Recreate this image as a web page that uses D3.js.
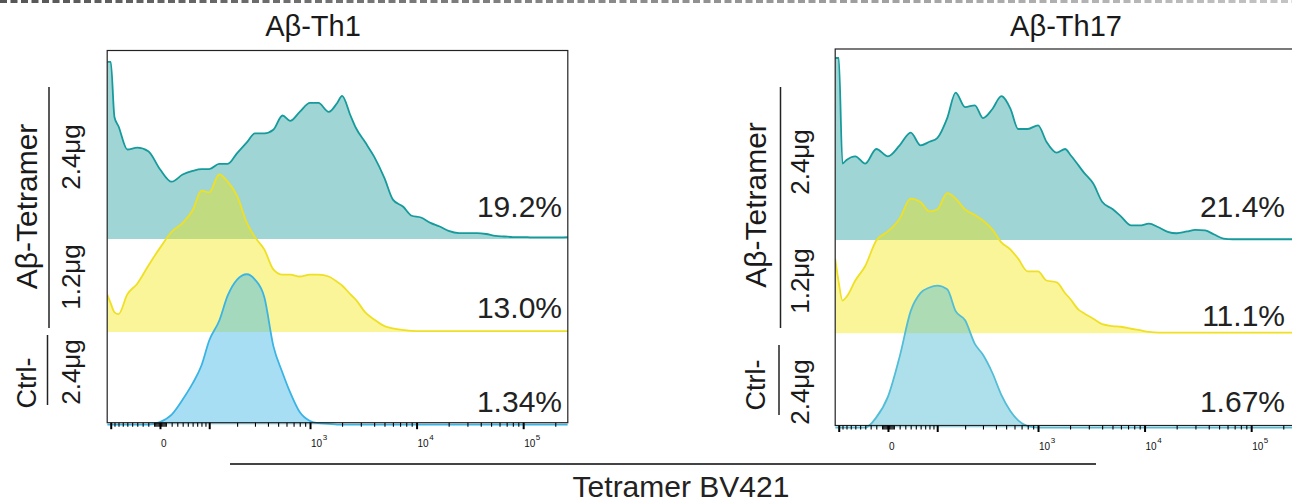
<!DOCTYPE html>
<html><head><meta charset="utf-8">
<script src="https://cdn.jsdelivr.net/npm/d3@7"></script>
<style>html,body{margin:0;padding:0;background:#fff;overflow:hidden;} svg{display:block;font-family:"Liberation Sans",Arial,sans-serif;}</style>
</head><body><svg id="chart" width="1292" height="502"></svg>
<script>
// ---------- data ----------
// fluorescence bin centres (Tetramer BV421, logicle-like display)
const xBins = [-110,-100,-90,-80,-60,-40,-20,0,20,40,60,80,100,130,160,200,250,300,370,450,550,650,800,
  1000,1200,1500,1800,2000,2400,2700,3300,4000,5000,6000,7500,9000,11000,13500,16500,20000,25000,30000,
  37000,45000,55000,67000,80000,100000,120000,150000,185000,220000,262144];

// % of mode, Aβ-Th1
const th1Teal = [99,99,68,63,50,51,49,39,32,36,38,39,39,42,42,48,54,59,59,61,69,66,71,
  76,76,71,76,80,69,62,54,46,34,22,18,13,12,9,7,4.5,3.3,3.3,
  3.3,2.8,1.7,1.4,1.1,1.1,0.9,0.9,0.9,0.9,1.1];
const th1Yellow = [21,16,11,10,21,27,37,47,56,61,68,79,78,88,84,76,61,53,46,35,32,32,31,
  32,32,31,28,26,21,18,11,7,3.3,2,1.1,0.6,0.5,0.5,0.5,0.5,0.5,0.5,
  0.5,0.5,0.5,0.5,0.5,0.5,0.5,0.5,0.5,0.5,0.5];
const th1Blue = [0,0,0,0,0,0,0,1.4,5.6,14,23,33,47,58,72,81,84,81,71,44,29,18,7,
  2,0.8,0.4,0,0,0,0,0,0,0,0,0,0,0,0,0,0,0,0,
  0,0,0,0,0,0,0,0,0,0,0];

// % of mode, Aβ-Th17
const th17Teal = [100,100,42,44,46,42,50,46,52,59,52,54,56,67,81,73,74,67,72,79,72,61,61,
  63,54,48,50,47,41,37,31,21,17,13,8,8,9,7,4.5,3.7,4.7,5.6,
  5.3,3,0.8,0.4,0.4,0.4,0.4,0.4,0.4,0.4,0.4];
const th17Yellow = [41,28,18,20,29,37,51,56,63,74,72,67,68,77,74,68,65,62,57,50,46,41,34,
  34,29,28,22,19,13,11,8,5,4,3.6,2.5,1.7,0.8,0.4,0.4,0.4,0.4,0.4,
  0.4,0.4,0.4,0.4,0.4,0.4,0.4,0.4,0.4,0.4,0.4];
const th17Blue = [0,0,0,0,0,0,5.6,17,39,64,74,77,78,76,64,59,46,40,30,18,9,4,0.8,
  0,0,0,0,0,0,0,0,0,0,0,0,0,0,0,0,0,0,0,
  0,0,0,0,0,0,0,0,0,0,0];

const panelTitles = ["Aβ-Th1", "Aβ-Th17"];
const th1Pct = ["19.2%", "13.0%", "1.34%"];
const th17Pct = ["21.4%", "11.1%", "1.67%"];
const rowDoses = ["2.4μg", "1.2μg", "2.4μg"];
const groupLabels = ["Aβ-Tetramer", "Ctrl-"];
const axisTitle = "Tetramer BV421";

const majorTicks = [-100, 0, 100, 1000, 10000, 100000];
const minorTicks = [-90,-80,-70,-60,-50,-40,-30,-20,-10,-8,-6,-4,-2,2,4,6,8,10,20,30,40,50,60,70,80,90,
  200,300,400,500,600,700,800,900,2000,3000,4000,5000,6000,7000,8000,9000,
  20000,30000,40000,50000,60000,70000,80000,90000,200000];
const tickLabelValues = [0, 1000, 10000, 100000];
const tickLabelBase = ["0", "10", "10", "10"];
const tickLabelExp = ["", "3", "4", "5"];

const xDomain = [-110, 262144];
const cofactor = 78.4;

// ---------- helpers ----------
function asinhScale(cof, domain, range) {
  const t = v => Math.asinh(v / cof);
  const lin = d3.scaleLinear().domain(domain.map(t)).range(range);
  const s = v => lin(t(v));
  s.domain = () => domain.slice();
  s.range = () => range.slice();
  s.copy = () => asinhScale(cof, domain, range);
  return s;
}

const svg = d3.select("#chart");
const defs = svg.append("defs");

// top dashed separator
const grad = defs.append("linearGradient").attr("id", "dashGrad")
  .attr("x1", "0").attr("x2", "1").attr("y1", "0").attr("y2", "0");
grad.append("stop").attr("offset", "0").attr("stop-color", "#555");
grad.append("stop").attr("offset", "1").attr("stop-color", "#c4c4c4");
const mask = defs.append("mask").attr("id", "dashMask");
mask.append("line").attr("x1", 0).attr("x2", 1292).attr("y1", 1.5).attr("y2", 1.5)
  .attr("stroke", "#fff").attr("stroke-width", 3).attr("stroke-dasharray", "7,3.5");
svg.append("rect").attr("x", 0).attr("y", 0).attr("width", 1292).attr("height", 3)
  .attr("fill", "url(#dashGrad)").attr("mask", "url(#dashMask)");

const panels = [
  { title: panelTitles[0], series: [th1Teal, th1Yellow, th1Blue], pct: th1Pct,
    x0: 107.2, x1: 567.8, top: 50.5, bottom: 422.7, base: [239, 332, 424.6], h: 179,
    pctY: [217, 318, 412], pctX: 562, titleX: 313,
    colors: [["#1a9a9c", "#169a9c"], ["#f5e600", "#efe024"], ["#40b6e6", "#3ab4e4"]],
    groupX: 36.5, lineX: 49, doseX: 80, tetY: 206.5, tetLine: [87, 328], ctrlY: 383, ctrlLine: [335, 405],
    doseY: [157, 277, 372] },
  { title: panelTitles[1], series: [th17Teal, th17Yellow, th17Blue], pct: th17Pct,
    x0: 835.2, x1: 1295.8, top: 49, bottom: 425.5, base: [240, 333.3, 427.6], h: 182,
    pctY: [217, 326, 412], pctX: 1285, titleX: 1066,
    colors: [["#1a9a9c", "#169a9c"], ["#f5e600", "#efe024"], ["#4fbcd4", "#52bdd6"]],
    groupX: 765.5, lineX: 780.5, doseX: 809, tetY: 205, tetLine: [87, 328], ctrlY: 385, ctrlLine: [345, 415],
    doseY: [162, 281, 392] }
];

panels.forEach((p, pi) => {
  const x = asinhScale(cofactor, xDomain, [p.x0, p.x1]);
  const g = svg.append("g");

  const clipId = "clip" + pi;
  defs.append("clipPath").attr("id", clipId).append("rect")
    .attr("x", p.x0).attr("y", p.top).attr("width", p.x1 - p.x0).attr("height", p.bottom - p.top + 4);

  const hg = g.append("g").attr("clip-path", `url(#${clipId})`);
  p.series.forEach((vals, si) => {
    const y = d3.scaleLinear().domain([0, 100]).range([p.base[si], p.base[si] - p.h]);
    const pts = xBins.map((xv, i) => ({ x: xv, v: vals[i] }));
    const area = d3.area().x(d => x(d.x)).y0(p.base[si]).y1(d => y(d.v)).curve(d3.curveMonotoneX);
    const line = d3.line().x(d => x(d.x)).y(d => y(d.v)).curve(d3.curveMonotoneX);
    hg.append("path").attr("d", area(pts)).attr("fill", p.colors[si][0])
      .attr("fill-opacity", si === 1 ? 0.4 : (si === 2 ? 0.46 : 0.42));
    hg.append("path").attr("d", line(pts)).attr("fill", "none")
      .attr("stroke", p.colors[si][1]).attr("stroke-width", 1.8).attr("stroke-linejoin", "round");
  });

  // frame
  g.append("rect").attr("x", p.x0).attr("y", p.top).attr("width", p.x1 - p.x0).attr("height", p.bottom - p.top)
    .attr("fill", "none").attr("stroke", "#222").attr("stroke-width", 1.2);

  // axis ticks
  const axMinor = g.append("g").attr("transform", `translate(0,${p.bottom})`)
    .call(d3.axisBottom(x).tickValues(minorTicks).tickSize(4).tickFormat(() => ""));
  axMinor.select(".domain").remove();
  axMinor.selectAll("line").attr("stroke", "#000").attr("stroke-width", 1.1);
  const axMajor = g.append("g").attr("transform", `translate(0,${p.bottom})`)
    .call(d3.axisBottom(x).tickValues(majorTicks).tickSize(6.5).tickFormat(() => ""));
  axMajor.select(".domain").remove();
  axMajor.selectAll("line").attr("stroke", "#000").attr("stroke-width", 2);

  tickLabelValues.forEach((v, i) => {
    const t = g.append("text").attr("x", x(v) + 1).attr("y", p.bottom + 24)
      .attr("font-size", 10).attr("fill", "#111");
    t.append("tspan").text(tickLabelBase[i]);
    if (tickLabelExp[i]) t.append("tspan").attr("font-size", 8).attr("dy", -6.5).attr("dx", 0.5).text(tickLabelExp[i]);
  });

  // title
  g.append("text").attr("x", p.titleX).attr("y", 36).attr("text-anchor", "middle")
    .attr("font-size", 29).attr("fill", "#1a1a1a").text(p.title);

  // percentages
  p.pct.forEach((s, i) => {
    g.append("text").attr("x", p.pctX).attr("y", p.pctY[i]).attr("text-anchor", "end")
      .attr("font-size", 30).attr("fill", "#222").text(s);
  });

  // row labels
  const rot = (tx, ty, txt, fs) => g.append("text")
    .attr("transform", `translate(${tx},${ty}) rotate(-90)`).attr("text-anchor", "middle")
    .attr("font-size", fs).attr("fill", "#1a1a1a").text(txt);
  rot(p.groupX, p.tetY, groupLabels[0], 30);
  rot(p.groupX - 0.5, p.ctrlY, groupLabels[1], 27);
  rowDoses.forEach((d, i) => rot(p.doseX, p.doseY[i], d, 26));
  g.append("line").attr("x1", p.lineX).attr("x2", p.lineX).attr("y1", p.tetLine[0]).attr("y2", p.tetLine[1])
    .attr("stroke", "#222").attr("stroke-width", 1.5);
  g.append("line").attr("x1", p.lineX - 1.5).attr("x2", p.lineX - 1.5).attr("y1", p.ctrlLine[0]).attr("y2", p.ctrlLine[1])
    .attr("stroke", "#222").attr("stroke-width", 1.5);
});

// shared x-axis title
svg.append("line").attr("x1", 230).attr("x2", 1096).attr("y1", 464).attr("y2", 464)
  .attr("stroke", "#444").attr("stroke-width", 2);
svg.append("text").attr("x", 681).attr("y", 497).attr("text-anchor", "middle")
  .attr("font-size", 30).attr("fill", "#222").text(axisTitle);
</script>
</body></html>
